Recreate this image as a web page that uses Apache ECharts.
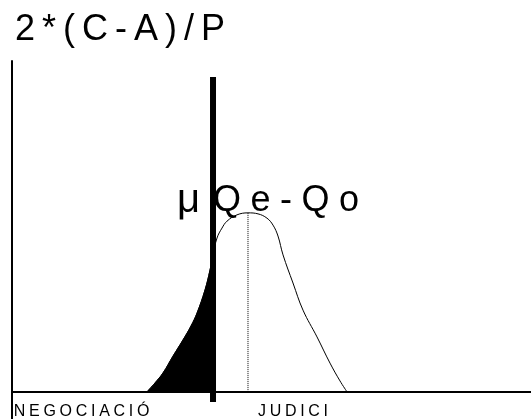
<!DOCTYPE html>
<html>
<head>
<meta charset="utf-8">
<script src="https://cdn.jsdelivr.net/npm/echarts@6/dist/echarts.min.js"></script>
<style>
  html, body { margin: 0; padding: 0; background: #fff; }
  #main { width: 531px; height: 419px; }
</style>
</head>
<body>
<div id="main"></div>
<script>
// curva de distribució (llegida del gràfic)
var curveX = [26.01, 27.55, 29.09, 31.02, 32.95, 34.49, 35.65, 37.19, 38.15, 38.73, 39.50, 40.46, 41.43,
              43.35, 45.47, 47.40, 49.13, 50.29, 51.25, 52.22, 54.14, 56.07, 58.77, 61.27, 63.20, 64.55];
var curveY = [0, 2.7, 5.7, 10.8, 15.7, 19.9, 23.8, 30.8, 36.8, 41.4, 46.5, 49.5, 51.6,
              53.5, 54.1, 53.8, 52.5, 50.4, 47.1, 41.4, 32.9, 24.7, 16.6, 8.7, 3.3, 0];

// límit negociació / judici
var cutX = 38.73;
var cutY = [-3.06, 95.16];

// mitjana
var meanX = 45.47;
var meanY = [0, 54.1];

var labelNames = ['NEGOCIACIÓ', 'JUDICI'];
var labelAt = [0.35, 47.4];

var titleText = '2*(C-A)/P';
var noteText = 'μQe-Qo';

function spaced(str, key) {
    return str.split('').map(function (ch) { return '{' + key + '|' + ch + '}'; }).join('');
}

var curve = [];
var fill = [];
for (var i = 0; i < curveX.length; i++) {
    curve.push([curveX[i], curveY[i]]);
    if (curveX[i] <= cutX) fill.push([curveX[i], curveY[i]]);
}

var font = 'Liberation Sans, Arial, sans-serif';

var myChart = echarts.init(document.getElementById('main'));

var option = {
    animation: false,
    title: {
        text: spaced(titleText, 'c'),
        left: 15,
        top: 12,
        padding: 0,
        textStyle: {
            fontWeight: 'normal',
            rich: {
                c: { fontSize: 36, fontFamily: font, fontWeight: 'normal', color: '#000', padding: [0, 7, 0, 0] }
            }
        }
    },
    grid: { left: 12, right: 0, top: 61, bottom: 0, outerBoundsMode: 'none', containLabel: false },
    xAxis: {
        type: 'value',
        min: 0,
        max: 100,
        axisLine: { onZero: true, lineStyle: { color: '#000', width: 2 } },
        axisTick: { show: false },
        axisLabel: { show: false },
        splitLine: { show: false }
    },
    yAxis: {
        type: 'value',
        min: -8.2,
        max: 100,
        axisLine: { show: true, lineStyle: { color: '#000', width: 2 } },
        axisTick: { show: false },
        axisLabel: { show: false },
        splitLine: { show: false }
    },
    series: [
        {
            name: 'negociació',
            type: 'line',
            data: fill,
            smooth: 0.4,
            symbol: 'none',
            lineStyle: { color: '#000', width: 1 },
            areaStyle: { color: '#000', opacity: 1 },
            z: 2
        },
        {
            name: 'curva',
            type: 'line',
            data: curve,
            smooth: 0.4,
            symbol: 'none',
            lineStyle: { color: '#000', width: 1 },
            z: 3
        },
        {
            name: 'mitjana',
            type: 'line',
            data: [[meanX, meanY[0]], [meanX, meanY[1]]],
            symbol: 'none',
            lineStyle: { color: '#000', width: 1, type: [1, 1] },
            z: 3
        },
        {
            name: 'límit',
            type: 'line',
            data: [[cutX, cutY[0]], [cutX, cutY[1]]],
            symbol: 'none',
            lineStyle: { color: '#000', width: 6 },
            z: 4
        }
    ]
};

myChart.setOption(option);

// textos: nota sobre el pic i etiquetes sota l'eix, situades amb l'escala de l'eix x
var graphics = [
    {
        id: 'note',
        type: 'text',
        x: 177,
        y: 181,
        z: 10,
        style: {
            text: '{m|' + noteText.charAt(0) + '}' + spaced(noteText.slice(1), 'q'),
            align: 'left',
            verticalAlign: 'top',
            rich: {
                m: { fontSize: 40, fontFamily: font, fill: '#000', padding: [0, 13, 0, 0] },
                q: { fontSize: 36, fontFamily: font, fill: '#000', padding: [0, 9.5, 0, 0] }
            }
        }
    }
];
labelNames.forEach(function (name, k) {
    var p = myChart.convertToPixel({ gridIndex: 0 }, [labelAt[k], 0]);
    graphics.push({
        id: 'label' + k,
        type: 'text',
        x: p[0],
        y: p[1] + 12,
        z: 10,
        style: {
            text: spaced(name, 'l'),
            align: 'left',
            verticalAlign: 'top',
            rich: {
                l: { fontSize: 16, fontFamily: font, fill: '#000', padding: [0, 3.7, 0, 0] }
            }
        }
    });
});
myChart.setOption({ graphic: graphics });
</script>
</body>
</html>
